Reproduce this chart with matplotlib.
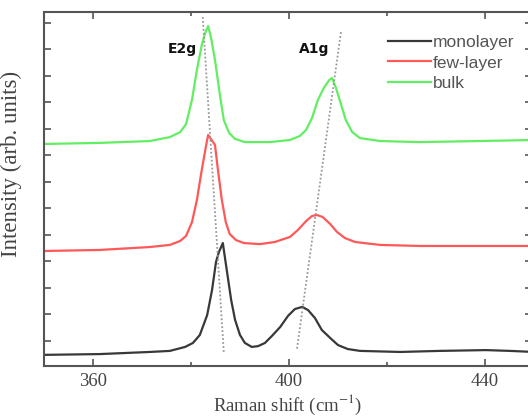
import numpy as np
import matplotlib
matplotlib.use("Agg")
import matplotlib.pyplot as plt

plt.rcParams["mathtext.fontset"] = "stix"

# Raman spectra (shift in cm-1, intensity in tick units)
mono_x = [350, 361.4, 371.6, 375.7, 378.8, 380.4, 381.8, 383.3, 384.3, 385.1, 385.7, 386.5,
          387.3, 388.2, 389.0, 390.0, 391.0, 392.4, 393.7, 395.1, 396.5, 398.2, 399.8, 401.2,
          402.7, 403.9, 405.3, 406.7, 408.4, 410.0, 412.0, 414.5, 422.7, 430.8, 440.2, 445.1, 450]
mono_y = [0.42, 0.45, 0.53, 0.57, 0.72, 0.87, 1.17, 1.92, 2.87, 3.92, 4.30, 4.64,
          3.62, 2.49, 1.74, 1.17, 0.87, 0.72, 0.75, 0.87, 1.13, 1.47, 1.89, 2.15,
          2.23, 2.11, 1.81, 1.36, 1.06, 0.79, 0.64, 0.57, 0.53, 0.57, 0.60, 0.57, 0.53]

few_x = [350, 361.4, 371.6, 375.7, 377.8, 379.0, 380.2, 381.2, 382.2, 383.1, 383.5, 384.5,
         384.9, 385.5, 386.3, 387.1, 387.9, 389.2, 390.8, 394.1, 397.1, 400.2, 401.8, 403.5,
         404.7, 405.7, 406.9, 408.4, 409.8, 411.4, 413.5, 418.6, 426.7, 438.8, 450]
few_y = [4.34, 4.38, 4.49, 4.57, 4.72, 4.91, 5.43, 6.26, 7.40, 8.34, 8.72, 8.45,
         8.34, 7.40, 6.26, 5.43, 4.98, 4.75, 4.64, 4.60, 4.68, 4.87, 5.13, 5.47,
         5.66, 5.70, 5.62, 5.36, 5.06, 4.83, 4.68, 4.57, 4.53, 4.53, 4.53]

bulk_x = [350, 361.4, 371.6, 375.7, 377.8, 379.0, 380.2, 381.2, 382.2, 382.9, 383.5, 384.1,
          384.9, 385.9, 386.7, 387.8, 389.0, 391.0, 396.1, 400.2, 402.2, 403.5, 404.7, 405.9,
          407.1, 408.2, 408.8, 409.6, 410.6, 411.6, 412.9, 414.5, 418.6, 426.7, 438.8, 450]
bulk_y = [8.38, 8.42, 8.49, 8.64, 8.83, 9.13, 10.04, 11.17, 12.11, 12.57, 12.83, 12.38,
          11.55, 10.23, 9.28, 8.79, 8.57, 8.45, 8.45, 8.53, 8.68, 8.91, 9.36, 10.04,
          10.49, 10.79, 10.87, 10.49, 9.89, 9.28, 8.83, 8.60, 8.49, 8.45, 8.49, 8.53]

# guide lines through the peaks
e2g_x = [382.4, 386.7]
e2g_y = [13.17, 0.49]
a1g_x = [410.6, 401.6]
a1g_y = [12.6, 0.6]

fig = plt.figure(figsize=(5.28, 4.16), dpi=100)
ax = fig.add_axes([44 / 528, 50 / 416, 488 / 528, 354 / 416])

ax.plot(mono_x, mono_y, color="#383838", lw=1.6, label="monolayer")
ax.plot(few_x, few_y, color="#ff5858", lw=1.6, label="few-layer")
ax.plot(bulk_x, bulk_y, color="#62ee62", lw=1.6, label="bulk")
ax.plot(e2g_x, e2g_y, color="#999999", lw=1.3, ls=(0, (1, 1.2)))
ax.plot(a1g_x, a1g_y, color="#999999", lw=1.3, ls=(0, (1, 1.2)))

ax.text(381.3, 11.98, "E2g", fontsize=10, fontweight="bold", ha="right", va="center",
        family="DejaVu Sans", color="#111111")
ax.text(405.1, 11.98, "A1g", fontsize=10, fontweight="bold", ha="center", va="center",
        family="DejaVu Sans", color="#111111")

ax.set_xlim(350, 449.6)
ax.set_ylim(0, 13.36)
ax.set_xticks([360, 400, 440])
ax.set_xticks([380, 420], minor=True)
ax.set_yticks(np.arange(13) + 0.95)
ax.set_yticklabels([])
ax.tick_params(which="both", direction="in", top=True, right=True, colors="#555555",
               width=1.2, labelcolor="#444444", labelsize=13.5, pad=5)
ax.tick_params(which="major", length=5)
ax.tick_params(which="minor", length=3)
for lbl in ax.get_xticklabels():
    lbl.set_family("Liberation Serif")
for s in ax.spines.values():
    s.set_color("#555555")
    s.set_linewidth(1.5)

ax.set_xlabel("Raman shift (cm$^{-1}$)", family="Liberation Serif", fontsize=13.5,
              color="#444444", labelpad=2)
ax.set_ylabel("Intensity (arb. units)", family="Liberation Serif", fontsize=16.5,
              color="#444444")
ax.yaxis.set_label_coords(-0.045, 0.57)

ax.legend(loc="upper left", bbox_to_anchor=(388 / 528, 1 - 35 / 416),
          bbox_transform=fig.transFigure, frameon=False, borderpad=0, borderaxespad=0,
          handlelength=2.5, handletextpad=0.1, labelspacing=0.3,
          prop={"family": "Liberation Sans", "size": 12.5}, labelcolor="#555555")

fig.savefig("out.png", dpi=100)
